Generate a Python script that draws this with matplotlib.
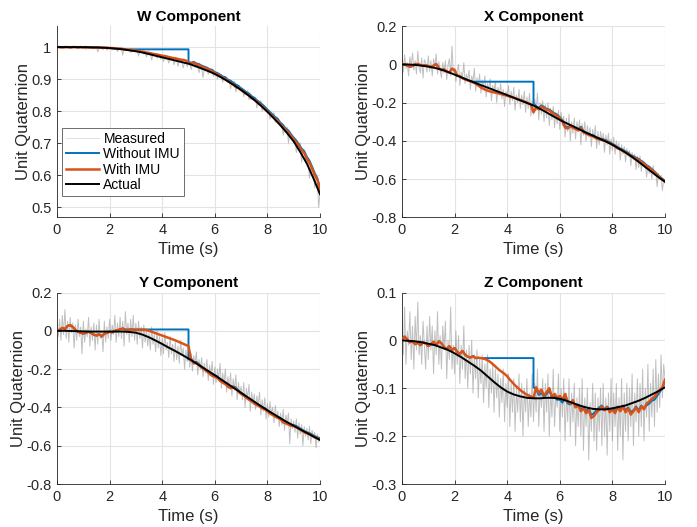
import matplotlib
matplotlib.use("Agg")
import matplotlib.pyplot as plt
import numpy as np
from matplotlib.ticker import FuncFormatter

plt.rcParams["font.family"] = ["Liberation Sans", "DejaVu Sans"]
plt.rcParams["axes.unicode_minus"] = False

# time bases
t_act = np.linspace(0, 10, 41)     # actual, 0.25 s
t_est = np.linspace(0, 10, 101)    # filter outputs, 0.1 s
t_meas = np.linspace(0, 10, 201)   # measurements, 0.05 s
gap_end = 5.0

# ---------------- W component ----------------
w_actual = [1.000, 1.000, 1.000, 1.000, 0.9998, 0.9995, 0.999, 0.998, 0.997, 0.995,
            0.993, 0.990, 0.987, 0.983, 0.978, 0.973, 0.968, 0.963, 0.958, 0.953,
            0.948, 0.941, 0.933, 0.925, 0.916, 0.905, 0.893, 0.880, 0.866, 0.851,
            0.835, 0.817, 0.798, 0.777, 0.755, 0.731, 0.705, 0.672, 0.636, 0.590,
            0.540]
w_imu = [1.000, 1.000, 0.999, 1.000, 1.000, 0.999, 1.000, 1.000, 0.999, 1.000,
         0.999, 1.000, 0.999, 0.999, 0.998, 0.999, 0.999, 0.998, 0.998, 0.998,
         0.997, 0.997, 0.996, 0.995, 0.995, 0.994, 0.993, 0.992, 0.991, 0.990,
         0.989, 0.988, 0.986, 0.985, 0.983, 0.982, 0.980, 0.978, 0.977, 0.975,
         0.973, 0.972, 0.970, 0.968, 0.966, 0.965, 0.963, 0.961, 0.960, 0.958,
         0.952, 0.948, 0.951, 0.946, 0.944, 0.938, 0.936, 0.933, 0.928, 0.925,
         0.918, 0.915, 0.910, 0.903, 0.901, 0.893, 0.889, 0.884, 0.875, 0.872,
         0.866, 0.860, 0.854, 0.849, 0.840, 0.836, 0.829, 0.822, 0.816, 0.807,
         0.799, 0.792, 0.783, 0.776, 0.769, 0.757, 0.750, 0.740, 0.733, 0.722,
         0.711, 0.703, 0.690, 0.678, 0.669, 0.651, 0.639, 0.620, 0.600, 0.585,
         0.552]
w_noimu_hold = (2.8, 0.993)
w_noimu_after = [0.955, 0.951, 0.954, 0.949, 0.947, 0.942, 0.939, 0.936, 0.931, 0.929,
                 0.922, 0.919, 0.914, 0.908, 0.906, 0.898, 0.895, 0.889, 0.883, 0.879,
                 0.871, 0.866, 0.859, 0.855, 0.846, 0.842, 0.834, 0.828, 0.821, 0.813,
                 0.805, 0.797, 0.789, 0.781, 0.775, 0.763, 0.756, 0.745, 0.739, 0.727,
                 0.717, 0.708, 0.696, 0.683, 0.675, 0.657, 0.645, 0.626, 0.606, 0.590,
                 0.560]
w_meas = [1.000, 0.999, 1.000, 0.998, 1.000, 0.999, 0.997, 1.000, 0.999, 0.998,
          1.000, 0.996, 0.999, 1.000, 0.998, 0.999, 0.995, 1.000, 0.998, 0.999,
          0.997, 1.000, 0.993, 0.999, 0.998, 0.996, 1.000, 0.994, 0.999, 0.997,
          0.999, 0.985, 0.998, 0.996, 0.999, 0.992, 0.997, 0.999, 0.990, 0.998,
          0.996, 0.999, 0.991, 0.997, 0.994, 0.998, 0.986, 0.996, 0.993, 0.997,
          0.975, 0.995, 0.990, 0.994, 0.988, 0.993, 0.983, 0.991, 0.987, 0.990,
          0.984, 0.989, 0.972, 0.987, 0.983, 0.986, 0.978, 0.984, 0.969, 0.981,
          0.978, 0.980, 0.960, 0.977, 0.973, 0.976, 0.965, 0.974, 0.970, 0.962,
          0.970, 0.955, 0.968, 0.963, 0.967, 0.950, 0.964, 0.960, 0.963, 0.945,
          0.959, 0.962, 0.940, 0.957, 0.953, 0.956, 0.935, 0.951, 0.955, 0.938,
          0.949, 0.952, 0.930, 0.945, 0.948, 0.936, 0.942, 0.939, 0.920, 0.937,
          0.935, 0.905, 0.930, 0.926, 0.932, 0.915, 0.925, 0.921, 0.928, 0.908,
          0.918, 0.921, 0.900, 0.912, 0.908, 0.915, 0.890, 0.906, 0.900, 0.896,
          0.895, 0.899, 0.870, 0.888, 0.886, 0.892, 0.860, 0.880, 0.877, 0.870,
          0.868, 0.873, 0.845, 0.862, 0.858, 0.864, 0.835, 0.853, 0.850, 0.843,
          0.837, 0.842, 0.810, 0.830, 0.826, 0.832, 0.800, 0.820, 0.816, 0.805,
          0.800, 0.805, 0.775, 0.792, 0.788, 0.795, 0.765, 0.782, 0.778, 0.760,
          0.757, 0.764, 0.725, 0.746, 0.742, 0.750, 0.700, 0.735, 0.730, 0.712,
          0.707, 0.714, 0.670, 0.696, 0.690, 0.700, 0.640, 0.680, 0.668, 0.650,
          0.638, 0.648, 0.590, 0.625, 0.612, 0.620, 0.560, 0.595, 0.580, 0.500,
          0.545]

# ---------------- X component ----------------
x_actual = [0.000, 0.000, -0.002, -0.006, -0.011, -0.018, -0.027, -0.039, -0.053, -0.067,
            -0.081, -0.094, -0.108, -0.121, -0.134, -0.147, -0.160, -0.174, -0.188, -0.201,
            -0.215, -0.232, -0.251, -0.271, -0.290, -0.307, -0.323, -0.340, -0.357, -0.372,
            -0.388, -0.403, -0.420, -0.440, -0.461, -0.484, -0.510, -0.537, -0.563, -0.590,
            -0.614]
x_imu = [0.000, 0.002, -0.005, -0.012, -0.008, 0.002, 0.003, -0.003, -0.006, -0.004,
         -0.008, -0.014, -0.006, 0.002, -0.018, -0.030, -0.025, -0.038, -0.042, -0.022,
         -0.030, -0.058, -0.062, -0.072, -0.078, -0.083, -0.088, -0.094, -0.100, -0.110,
         -0.120, -0.128, -0.134, -0.139, -0.143, -0.146, -0.149, -0.152, -0.156, -0.160,
         -0.164, -0.168, -0.172, -0.176, -0.181, -0.186, -0.191, -0.197, -0.203, -0.209,
         -0.250, -0.225, -0.235, -0.220, -0.228, -0.236, -0.240, -0.252, -0.262, -0.268,
         -0.282, -0.298, -0.330, -0.335, -0.325, -0.330, -0.338, -0.345, -0.332, -0.355,
         -0.362, -0.368, -0.374, -0.378, -0.388, -0.392, -0.395, -0.398, -0.405, -0.411,
         -0.420, -0.428, -0.440, -0.445, -0.452, -0.460, -0.468, -0.480, -0.486, -0.494,
         -0.500, -0.512, -0.520, -0.532, -0.540, -0.554, -0.565, -0.578, -0.592, -0.602,
         -0.612]
x_noimu_hold = (2.7, -0.090)
x_noimu_after = [-0.205, -0.218, -0.228, -0.214, -0.222, -0.232, -0.236, -0.246, -0.256, -0.262,
                 -0.276, -0.292, -0.322, -0.330, -0.320, -0.325, -0.333, -0.340, -0.326, -0.348,
                 -0.356, -0.362, -0.369, -0.372, -0.382, -0.386, -0.390, -0.393, -0.400, -0.406,
                 -0.415, -0.423, -0.434, -0.440, -0.446, -0.455, -0.462, -0.474, -0.480, -0.488,
                 -0.494, -0.506, -0.514, -0.527, -0.535, -0.548, -0.560, -0.574, -0.588, -0.598,
                 -0.610]
x_meas = [0.030, -0.040, 0.050, -0.020, 0.010, -0.060, 0.040, -0.010, 0.060, -0.030,
          0.020, -0.050, 0.070, -0.015, -0.045, 0.035, -0.070, 0.025, 0.010, -0.040,
          0.045, -0.035, 0.020, -0.060, 0.030, -0.010, 0.055, -0.050, 0.015, -0.030,
          -0.070, 0.010, -0.045, 0.020, -0.080, -0.005, 0.030, -0.060, 0.095, -0.040,
          -0.020, -0.090, -0.030, 0.000, -0.110, -0.040, -0.070, 0.010, -0.100, -0.050,
          -0.080, -0.030, -0.130, -0.060, -0.090, -0.020, -0.140, -0.070, -0.110, -0.050,
          -0.150, -0.080, -0.120, -0.060, -0.170, -0.100, -0.130, -0.075, -0.190, -0.110,
          -0.140, -0.090, -0.200, -0.120, -0.160, -0.100, -0.180, -0.130, -0.220, -0.140,
          -0.170, -0.110, -0.210, -0.140, -0.190, -0.120, -0.240, -0.160, -0.200, -0.130,
          -0.230, -0.160, -0.210, -0.140, -0.250, -0.170, -0.230, -0.150, -0.270, -0.190,
          -0.260, -0.180, -0.240, -0.150, -0.290, -0.200, -0.260, -0.190, -0.300, -0.210,
          -0.280, -0.200, -0.320, -0.230, -0.290, -0.220, -0.330, -0.250, -0.310, -0.240,
          -0.340, -0.250, -0.320, -0.270, -0.380, -0.280, -0.350, -0.260, -0.400, -0.300,
          -0.360, -0.280, -0.390, -0.300, -0.350, -0.290, -0.420, -0.310, -0.370, -0.300,
          -0.400, -0.320, -0.380, -0.330, -0.430, -0.340, -0.390, -0.320, -0.440, -0.350,
          -0.420, -0.350, -0.400, -0.360, -0.460, -0.370, -0.420, -0.360, -0.470, -0.390,
          -0.450, -0.380, -0.470, -0.400, -0.440, -0.410, -0.500, -0.420, -0.470, -0.430,
          -0.510, -0.440, -0.480, -0.450, -0.530, -0.460, -0.500, -0.470, -0.550, -0.480,
          -0.540, -0.480, -0.560, -0.500, -0.530, -0.520, -0.590, -0.530, -0.570, -0.540,
          -0.600, -0.530, -0.580, -0.560, -0.640, -0.570, -0.600, -0.580, -0.660, -0.600,
          -0.620]

# ---------------- Y component ----------------
y_actual = [0.000, 0.000, -0.001, -0.002, -0.003, -0.004, -0.004, -0.004, -0.004, -0.004,
            -0.004, -0.006, -0.010, -0.020, -0.034, -0.051, -0.069, -0.088, -0.106, -0.125,
            -0.145, -0.166, -0.188, -0.210, -0.232, -0.255, -0.278, -0.301, -0.324, -0.347,
            -0.370, -0.393, -0.415, -0.436, -0.457, -0.477, -0.496, -0.515, -0.533, -0.552,
            -0.570]
y_imu = [0.000, 0.005, 0.015, 0.010, 0.025, 0.030, 0.020, 0.005, -0.005, -0.010,
         -0.015, -0.010, -0.005, -0.012, -0.020, -0.025, -0.018, -0.030, -0.015, -0.010,
         -0.005, -0.008, 0.000, 0.003, 0.008, 0.012, 0.005, 0.002, 0.008, 0.006,
         0.004, 0.006, 0.005, 0.005, 0.004, 0.000, -0.005, -0.010, -0.015, -0.020,
         -0.025, -0.030, -0.035, -0.040, -0.045, -0.050, -0.056, -0.062, -0.068, -0.074,
         -0.080, -0.150, -0.170, -0.168, -0.180, -0.192, -0.202, -0.212, -0.225, -0.235,
         -0.240, -0.245, -0.262, -0.270, -0.278, -0.292, -0.300, -0.295, -0.300, -0.318,
         -0.330, -0.338, -0.350, -0.360, -0.368, -0.380, -0.388, -0.395, -0.405, -0.410,
         -0.420, -0.432, -0.440, -0.448, -0.455, -0.462, -0.478, -0.483, -0.490, -0.496,
         -0.498, -0.502, -0.512, -0.520, -0.530, -0.535, -0.540, -0.548, -0.556, -0.562,
         -0.566]
y_noimu_hold = (2.6, 0.007)
y_noimu_after = [-0.150, -0.145, -0.166, -0.162, -0.175, -0.188, -0.198, -0.208, -0.220, -0.228,
                 -0.232, -0.238, -0.258, -0.266, -0.272, -0.286, -0.296, -0.290, -0.296, -0.312,
                 -0.325, -0.332, -0.345, -0.355, -0.362, -0.375, -0.383, -0.390, -0.400, -0.404,
                 -0.415, -0.425, -0.434, -0.442, -0.450, -0.456, -0.470, -0.478, -0.486, -0.490,
                 -0.492, -0.497, -0.506, -0.514, -0.524, -0.530, -0.534, -0.542, -0.550, -0.556,
                 -0.560]
y_meas = [0.040, -0.030, 0.060, -0.050, 0.080, -0.020, 0.110, -0.040, 0.050, -0.060,
          0.070, -0.010, 0.040, -0.090, 0.030, -0.050, 0.060, -0.030, 0.020, -0.120,
          0.050, -0.060, 0.010, -0.030, 0.070, -0.080, 0.020, -0.050, 0.040, -0.100,
          0.030, -0.070, 0.060, -0.040, -0.010, -0.110, 0.050, -0.060, 0.020, -0.040,
          0.060, -0.050, 0.030, -0.020, 0.080, -0.060, 0.040, -0.030, 0.070, -0.040,
          0.050, -0.080, 0.100, -0.020, 0.040, -0.060, 0.060, -0.030, 0.080, -0.050,
          0.040, -0.070, 0.050, -0.040, 0.020, -0.090, 0.030, -0.060, 0.010, -0.080,
          -0.010, -0.100, 0.020, -0.070, -0.020, -0.110, 0.000, -0.090, -0.030, -0.130,
          -0.040, -0.120, -0.010, -0.100, -0.060, -0.140, -0.030, -0.120, -0.070, -0.160,
          -0.060, -0.150, -0.080, -0.170, -0.050, -0.130, -0.090, -0.200, -0.100, -0.160,
          -0.100, -0.190, -0.120, -0.210, -0.130, -0.170, -0.110, -0.230, -0.150, -0.200,
          -0.140, -0.240, -0.170, -0.220, -0.150, -0.260, -0.180, -0.230, -0.160, -0.280,
          -0.190, -0.270, -0.200, -0.250, -0.170, -0.300, -0.220, -0.280, -0.200, -0.320,
          -0.240, -0.300, -0.220, -0.340, -0.250, -0.310, -0.230, -0.360, -0.270, -0.330,
          -0.290, -0.360, -0.270, -0.400, -0.300, -0.350, -0.280, -0.420, -0.320, -0.380,
          -0.330, -0.410, -0.340, -0.390, -0.320, -0.440, -0.360, -0.420, -0.350, -0.460,
          -0.380, -0.450, -0.370, -0.430, -0.400, -0.480, -0.390, -0.460, -0.420, -0.500,
          -0.430, -0.490, -0.410, -0.520, -0.440, -0.480, -0.430, -0.590, -0.460, -0.510,
          -0.470, -0.530, -0.460, -0.560, -0.480, -0.540, -0.490, -0.600, -0.500, -0.550,
          -0.510, -0.570, -0.500, -0.590, -0.520, -0.560, -0.530, -0.610, -0.540, -0.580,
          -0.560]

# ---------------- Z component ----------------
z_actual = [0.000, -0.001, -0.002, -0.004, -0.007, -0.010, -0.015, -0.020, -0.027, -0.035,
            -0.044, -0.053, -0.063, -0.075, -0.087, -0.098, -0.107, -0.113, -0.117, -0.120,
            -0.121, -0.121, -0.120, -0.120, -0.122, -0.126, -0.131, -0.136, -0.140, -0.143,
            -0.144, -0.144, -0.142, -0.139, -0.136, -0.131, -0.126, -0.120, -0.113, -0.106,
            -0.098]
z_imu = [0.000, 0.008, 0.002, -0.004, -0.002, -0.008, -0.005, -0.010, -0.004, -0.006,
         -0.012, -0.008, -0.003, -0.010, -0.002, -0.006, -0.014, -0.018, -0.012, -0.020,
         -0.016, -0.024, -0.028, -0.022, -0.030, -0.034, -0.036, -0.033, -0.037, -0.036,
         -0.037, -0.038, -0.040, -0.043, -0.047, -0.052, -0.057, -0.062, -0.066, -0.070,
         -0.075, -0.082, -0.088, -0.094, -0.099, -0.104, -0.108, -0.112, -0.115, -0.117,
         -0.120, -0.098, -0.110, -0.103, -0.115, -0.108, -0.100, -0.118, -0.112, -0.120,
         -0.116, -0.124, -0.112, -0.128, -0.132, -0.125, -0.140, -0.136, -0.148, -0.142,
         -0.152, -0.146, -0.162, -0.158, -0.150, -0.145, -0.138, -0.146, -0.140, -0.150,
         -0.145, -0.152, -0.140, -0.148, -0.138, -0.150, -0.142, -0.155, -0.148, -0.140,
         -0.150, -0.138, -0.144, -0.132, -0.128, -0.122, -0.118, -0.110, -0.104, -0.098,
         -0.082]
z_noimu_hold = (2.8, -0.037)
z_noimu_after = [-0.098, -0.102, -0.114, -0.110, -0.118, -0.112, -0.104, -0.120, -0.118, -0.124,
                 -0.124, -0.130, -0.120, -0.132, -0.134, -0.128, -0.138, -0.134, -0.144, -0.140,
                 -0.148, -0.142, -0.156, -0.152, -0.146, -0.140, -0.136, -0.144, -0.138, -0.146,
                 -0.142, -0.148, -0.138, -0.146, -0.136, -0.146, -0.140, -0.150, -0.146, -0.138,
                 -0.146, -0.136, -0.142, -0.136, -0.132, -0.126, -0.124, -0.116, -0.108, -0.100,
                 -0.086]
z_meas = [0.040, -0.030, 0.070, -0.050, 0.020, -0.010, 0.060, -0.040, 0.030, -0.060,
          0.050, -0.020, 0.080, -0.030, 0.010, -0.050, 0.040, -0.010, -0.060, 0.030,
          -0.040, 0.050, -0.020, 0.030, -0.070, 0.020, -0.030, 0.060, -0.050, 0.010,
          -0.060, 0.030, -0.020, 0.040, -0.080, 0.000, -0.040, 0.070, -0.060, -0.010,
          -0.070, 0.020, -0.050, 0.010, -0.090, -0.010, -0.060, 0.030, -0.080, -0.020,
          -0.100, -0.010, -0.070, 0.000, -0.110, -0.030, -0.080, -0.020, -0.120, -0.040,
          -0.090, -0.030, -0.130, -0.050, -0.100, -0.030, -0.140, -0.060, -0.110, -0.050,
          -0.150, -0.060, -0.120, -0.070, -0.160, -0.080, -0.130, -0.060, -0.170, -0.090,
          -0.140, -0.070, -0.180, -0.090, -0.150, -0.080, -0.190, -0.100, -0.150, -0.070,
          -0.170, -0.090, -0.200, -0.100, -0.150, -0.080, -0.180, -0.110, -0.160, -0.070,
          -0.170, -0.090, -0.150, -0.060, -0.180, -0.100, -0.140, -0.080, -0.190, -0.090,
          -0.150, -0.070, -0.200, -0.100, -0.160, -0.060, -0.180, -0.110, -0.140, -0.070,
          -0.190, -0.100, -0.160, -0.080, -0.210, -0.110, -0.170, -0.080, -0.200, -0.110,
          -0.170, -0.090, -0.220, -0.120, -0.180, -0.100, -0.200, -0.080, -0.230, -0.120,
          -0.180, -0.100, -0.250, -0.130, -0.190, -0.090, -0.210, -0.110, -0.230, -0.120,
          -0.190, -0.100, -0.220, -0.090, -0.200, -0.120, -0.240, -0.110, -0.190, -0.080,
          -0.210, -0.110, -0.180, -0.090, -0.230, -0.120, -0.200, -0.080, -0.250, -0.110,
          -0.190, -0.090, -0.210, -0.100, -0.180, -0.070, -0.220, -0.110, -0.170, -0.080,
          -0.200, -0.090, -0.180, -0.060, -0.210, -0.100, -0.160, -0.050, -0.190, -0.090,
          -0.160, -0.060, -0.180, -0.040, -0.150, -0.070, -0.140, -0.030, -0.120, -0.050,
          -0.080]

panels = [
    ("W Component", w_meas, w_imu, w_noimu_hold, w_noimu_after, w_actual,
     (0.468, 1.065), [0.5, 0.6, 0.7, 0.8, 0.9, 1.0]),
    ("X Component", x_meas, x_imu, x_noimu_hold, x_noimu_after, x_actual,
     (-0.8, 0.2), [-0.8, -0.6, -0.4, -0.2, 0.0, 0.2]),
    ("Y Component", y_meas, y_imu, y_noimu_hold, y_noimu_after, y_actual,
     (-0.8, 0.2), [-0.8, -0.6, -0.4, -0.2, 0.0, 0.2]),
    ("Z Component", z_meas, z_imu, z_noimu_hold, z_noimu_after, z_actual,
     (-0.3, 0.1), [-0.3, -0.2, -0.1, 0.0, 0.1]),
]

BLUE = "#0072BD"
ORANGE = "#D95319"
AX_COLOR = "#262626"


def noimu_curve(imu, hold, after):
    """Without IMU: tracks until the gap, holds the last value, then jumps back at 5 s."""
    hold_t, hold_v = hold
    imu = np.asarray(imu)
    pre = t_est < hold_t - 1e-9
    post = t_est >= gap_end - 1e-9
    t = np.concatenate([t_est[pre], [hold_t, gap_end], t_est[post]])
    y = np.concatenate([imu[pre], [hold_v, hold_v], after])
    return t, y


fig = plt.figure(figsize=(6.97, 5.27), dpi=100)
positions = [
    (57 / 697, 1 - 217.3 / 527, 263 / 697, 191 / 527),
    (402 / 697, 1 - 217.3 / 527, 263 / 697, 191 / 527),
    (57 / 697, 1 - 484 / 527, 263 / 697, 191.5 / 527),
    (402 / 697, 1 - 484 / 527, 263 / 697, 191.5 / 527),
]

fmt = FuncFormatter(lambda v, _: f"{v:g}" if abs(v) > 1e-9 else "0")

for i, (title, meas, imu, hold, after, actual, ylim, yticks) in enumerate(panels):
    ax = fig.add_axes(positions[i])
    ax.plot(t_meas, meas, color=(0.5, 0.5, 0.5), alpha=0.5, lw=0.7,
            label="Measured", zorder=2)
    tb, yb = noimu_curve(imu, hold, after)
    ax.plot(tb, yb, color=BLUE, lw=1.4, label="Without IMU", zorder=3)
    ax.plot(t_est, imu, color=ORANGE, lw=1.8, label="With IMU", zorder=4)
    ax.plot(t_act, actual, color="black", lw=1.4, label="Actual", zorder=5)

    ax.set_xlim(0, 10)
    ax.set_ylim(*ylim)
    ax.set_xticks([0, 2, 4, 6, 8, 10])
    ax.set_yticks(yticks)
    ax.yaxis.set_major_formatter(fmt)
    ax.grid(True, color="#e3e3e3", lw=0.8)
    ax.set_axisbelow(True)
    for side in ("top", "right"):
        ax.spines[side].set_visible(False)
    for side in ("left", "bottom"):
        ax.spines[side].set_color(AX_COLOR)
        ax.spines[side].set_linewidth(0.6)
    ax.tick_params(direction="in", length=3, width=0.6, colors=AX_COLOR,
                   labelsize=10.5, pad=4)
    ax.set_title(title, fontsize=11, fontweight="bold", pad=4)
    ax.set_xlabel("Time (s)", fontsize=12, color=AX_COLOR, labelpad=4)
    ax.set_ylabel("Unit Quaternion", fontsize=12, color=AX_COLOR, labelpad=0)

    if i == 0:
        leg = ax.legend(loc="lower left", bbox_to_anchor=(0.018, 0.11),
                        fontsize=10, fancybox=False, framealpha=1,
                        edgecolor="#555555", borderpad=0.3, labelspacing=0.1,
                        handlelength=2.4, handletextpad=0.3, borderaxespad=0)
        leg.get_frame().set_linewidth(0.6)
        leg.get_lines()[0].set_alpha(0.25)

fig.savefig("out.png", dpi=100)
